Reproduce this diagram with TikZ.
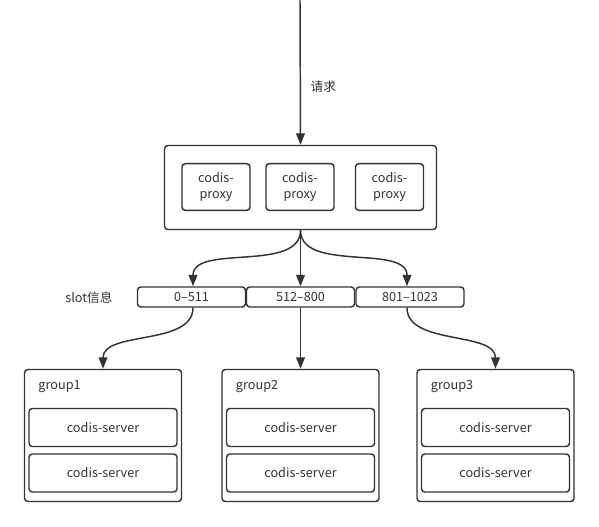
\documentclass[tikz,border=0pt]{standalone}
\usepackage{fontspec}
\setmainfont{Noto Sans CJK SC}
\usetikzlibrary{arrows.meta}
\definecolor{Ink}{RGB}{51, 51, 51}

\begin{document}
\begin{tikzpicture}[x=0.75pt, y=-0.75pt,
    box/.style={draw=Ink, line width=1.1pt, rounded corners=2.5pt, inner sep=0pt, font=\fontsize{9.5}{11.5}\selectfont, text=Ink, align=center},
    link/.style={draw=Ink, line width=1.1pt, -{Triangle[length=8.5pt, width=6.5pt]}},
    tag/.style={font=\fontsize{9.5}{11.5}\selectfont, text=Ink}]

% Canvas
\useasboundingbox[fill=white] (0,0) rectangle (599,526);

% Proxy layer
\node[box, minimum width=204pt, minimum height=63pt] (Proxy) at (300.5,187.5) {};
\node[box, minimum width=51pt, minimum height=35pt] (P1) at (216,187) {codis-\\proxy};
\node[box, minimum width=51pt, minimum height=35pt] (P2) at (300,187) {codis-\\proxy};
\node[box, minimum width=51pt, minimum height=35pt] (P3) at (389.5,187) {codis-\\proxy};

% Incoming request
\coordinate (Top) at (300,0);
\draw[link] (Top) -- (Proxy.north);
\node[tag, anchor=west] (Req) at (306,87) {请求};

% Slot table
\node[box, minimum width=81pt, minimum height=15pt] (S1) at (191.5,297) {0--511};
\node[box, minimum width=81pt, minimum height=15pt] (S2) at (300.5,297) {512--800};
\node[box, minimum width=81pt, minimum height=15pt] (S3) at (410,297) {801--1023};
\node[tag] (SlotInfo) at (89,298) {slot信息};

% Proxy to slots
\draw[link] (Proxy.south) to[out=-90, in=90, looseness=0.9] (S1.north -| 193,0);
\draw[link] (Proxy.south) -- (S2.north);
\draw[link] (Proxy.south) to[out=-90, in=90, looseness=0.9] (S3.north -| 407,0);

% Groups
\foreach \i/\x in {1/103, 2/300.5, 3/495.5} {
  \node[box, minimum width=117.75pt, minimum height=99pt] (G\i) at (\x,435.5) {};
  \node[tag, anchor=west] (L\i) at ([xshift=7.5pt]G\i.west |- 0,386.5) {group\i};
  \node[box, minimum width=111pt, minimum height=28.5pt] (G\i a) at (\x,427.5) {codis-server};
  \node[box, minimum width=111pt, minimum height=28.5pt] (G\i b) at (\x,473) {codis-server};
}

% Slots to groups
\draw[link] (S1.south -| 193,0) to[out=-90, in=90, looseness=0.9] (G1.north);
\draw[link] (S2.south) -- (G2.north);
\draw[link] (S3.south -| 407,0) to[out=-90, in=90, looseness=0.9] (G3.north);

\end{tikzpicture}
\end{document}
